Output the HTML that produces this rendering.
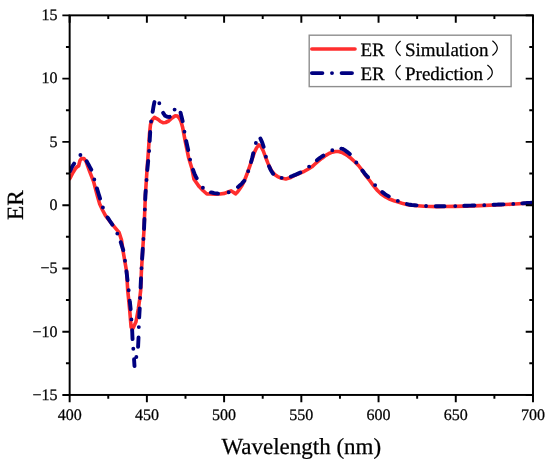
<!DOCTYPE html>
<html><head><meta charset="utf-8"><style>
html,body{margin:0;padding:0;background:#fff;}
body{width:550px;height:466px;overflow:hidden;}
svg{display:block;will-change:transform;filter:blur(0.35px);}
text{font-family:"Liberation Serif",serif;fill:#000;text-rendering:geometricPrecision;stroke:#000;stroke-width:0.25px;}
</style></head><body>
<svg width="550" height="466" viewBox="0 0 550 466">
<rect width="550" height="466" fill="#fff"/>

<defs><clipPath id="c"><rect x="69.65" y="14.35" width="463.35" height="381.59999999999997"/></clipPath></defs>
<g clip-path="url(#c)" fill="none" stroke-linejoin="round">
<polyline points="69.0,179.5 70.3,177.8 73.0,172.5 75.5,168.5 77.0,166.9 78.6,166.0 80.0,160.5 81.4,158.6 84.0,158.6 86.0,161.3 89.8,171.8 93.6,181.6 97.1,195.0 99.7,204.0 102.5,210.0 105.5,215.6 112.5,224.6 119.0,232.3 121.5,240.0 122.9,250.0 126.6,271.5 127.7,290.0 129.6,309.0 131.1,327.0 132.2,329.5 133.6,327.0 136.0,321.8 138.3,309.0 139.6,300.0 140.7,290.0 141.4,271.5 142.7,250.0 144.0,230.0 145.4,195.0 147.0,170.0 148.5,150.0 149.5,134.0 150.5,124.5 152.5,119.5 154.4,117.4 158.1,119.4 160.5,121.5 163.0,122.7 165.5,122.5 168.7,121.0 172.0,118.0 175.3,115.7 177.5,116.0 179.4,118.2 181.0,121.5 182.6,127.2 185.2,141.1 188.5,157.2 191.9,168.6 194.0,179.3 199.2,186.6 203.0,190.5 206.9,194.0 210.8,193.9 215.0,194.2 220.0,194.0 224.6,193.4 228.0,192.0 231.0,190.9 233.0,192.0 235.5,193.9 237.5,192.0 239.3,189.4 242.0,185.5 244.5,180.4 247.0,174.0 249.8,166.1 252.0,159.5 254.3,152.6 256.5,148.0 258.8,145.0 261.0,146.5 263.3,151.0 265.5,157.0 267.9,163.1 270.0,168.0 272.4,172.1 275.0,174.8 277.6,176.6 281.0,178.0 285.8,178.9 290.0,177.8 294.1,175.7 299.0,173.5 304.3,171.3 308.0,169.2 311.9,166.8 315.0,164.0 318.3,161.1 322.0,158.2 325.9,155.4 329.0,153.5 332.3,152.2 335.5,151.5 338.6,151.5 342.0,152.5 345.0,154.1 348.0,156.0 351.0,158.3 354.5,161.5 358.5,165.5 362.0,170.0 366.0,176.0 370.0,181.0 373.6,185.8 377.5,190.5 381.1,194.1 385.5,197.0 390.1,199.3 394.0,200.8 398.2,202.0 403.0,203.6 407.7,204.8 412.0,205.3 417.3,205.7 424.0,206.2 430.9,206.5 437.0,206.6 444.5,206.5 455.0,206.4 465.0,206.1 480.0,205.6 500.0,204.8 515.0,204.0 533.0,202.9" stroke="#ff2e2e" stroke-width="3.6" stroke-linecap="round"/>
<path d="M70.00,171.20 L70.11,170.97 L70.76,169.62 L71.41,168.26 L72.07,166.90 L72.79,165.58 L73.68,164.31 L74.12,163.67 M80.40,155.00h0.01 M86.72,161.32 L86.84,161.54 L87.56,162.86 L88.28,164.18 L89.00,165.50 L89.72,166.82 L90.44,168.14 L91.16,169.46 L91.28,169.68 M94.30,179.40h0.01 M96.94,188.44 L97.02,188.69 L97.46,190.13 L97.91,191.57 L98.35,193.02 L98.80,194.46 L99.24,195.91 L99.69,197.35 L100.06,198.56 M102.90,207.50h0.01 M107.55,217.47 L107.69,217.68 L108.54,218.94 L109.38,220.21 L110.23,221.47 L111.08,222.74 L111.93,224.00 L112.35,224.63 M117.30,233.60h0.01 M120.75,242.15 L120.83,242.40 L121.28,243.85 L121.74,245.30 L122.19,246.76 L122.64,248.21 L123.10,249.66 L123.25,250.15 M125.00,260.80h0.01 M126.47,271.25 L126.50,271.50 L126.67,273.00 L126.85,274.50 L127.02,276.00 L127.19,277.50 L127.37,279.00 L127.51,280.25 M128.67,290.25h0.01 M129.78,300.74 L129.80,300.99 L129.96,302.49 L130.11,303.98 L130.26,305.47 L130.42,306.97 L130.57,308.46 L130.65,309.21 M131.40,319.40h0.01 M132.16,330.10 L132.17,330.35 L132.24,331.85 L132.30,333.35 L132.36,334.85 L132.42,336.35 L132.49,337.85 L132.54,339.10 M133.30,348.70h0.01 M134.08,359.26 L134.09,359.52 L134.19,361.03 L134.28,362.55 L134.38,364.06 L134.47,365.58 L134.51,366.08 M136.34,356.99h0.01 M138.07,346.79 L138.09,346.54 L138.16,345.04 L138.23,343.53 L138.31,342.02 L138.38,340.52 L138.45,339.01 L138.53,337.51 M138.80,327.10h0.01 M139.19,317.40 L139.20,317.15 L139.29,315.65 L139.38,314.15 L139.46,312.65 L139.55,311.15 L139.64,309.65 L139.71,308.40 M140.11,297.95h0.01 M140.58,287.62 L140.59,287.37 L140.65,285.86 L140.72,284.35 L140.79,282.83 L140.86,281.32 L140.93,279.81 L140.99,278.30 M141.51,268.25h0.01 M142.13,258.75 L142.15,258.50 L142.24,257.00 L142.34,255.50 L142.44,254.00 L142.54,252.50 L142.63,251.00 L142.73,249.50 L142.78,248.75 M143.41,239.00h0.01 M144.04,229.00 L144.05,228.75 L144.11,227.25 L144.17,225.75 L144.23,224.25 L144.29,222.75 L144.35,221.25 L144.41,219.75 L144.44,219.00 M144.82,209.50h0.01 M145.22,199.50 L145.23,199.25 L145.29,197.75 L145.35,196.25 L145.42,194.75 L145.53,193.25 L145.65,191.75 L145.72,190.75 M146.54,180.00h0.01 M147.30,170.00 L147.32,169.75 L147.47,168.25 L147.61,166.75 L147.75,165.25 L147.89,163.75 L148.04,162.25 L148.16,161.00 M149.10,151.00h0.01 M149.69,141.00 L149.71,140.75 L149.79,139.25 L149.87,137.75 L149.96,136.25 L150.04,134.75 L150.12,133.25 L150.19,132.00 M151.08,121.56h0.01 M152.65,111.79 L152.69,111.54 L152.94,110.03 L153.19,108.52 L153.43,107.01 L153.70,105.51 L154.00,104.04 L154.30,102.56 L154.40,102.07 M159.30,103.30h0.01 M163.15,112.89 L163.29,113.11 L164.15,114.41 L165.00,115.70 L166.36,116.35 L167.75,116.91 L169.25,116.99 L169.72,116.85 M174.60,109.60h0.01 M180.56,112.67 L180.62,112.91 L180.97,114.38 L181.33,115.85 L181.69,117.32 L182.05,118.79 L182.40,120.25 L182.64,121.23 M184.44,131.65h0.01 M186.17,141.05 L186.22,141.30 L186.56,142.79 L186.89,144.28 L187.22,145.78 L187.56,147.27 L187.89,148.76 L188.17,150.01 M190.10,159.60h0.01 M193.04,169.81 L193.12,170.05 L193.66,171.46 L194.20,172.88 L194.73,174.29 L195.36,175.69 L196.08,177.07 L196.68,178.22 M202.90,187.70h0.01 M210.92,192.40 L211.18,192.45 L212.71,192.75 L214.24,193.05 L215.76,193.31 L217.27,193.53 L218.03,193.64 M228.70,192.20h0.01 M238.00,187.05 L238.20,186.88 L239.40,185.86 L240.60,184.84 L241.66,183.75 L242.65,182.62 L243.65,181.48 L244.31,180.73 M248.22,171.14h0.01 M251.06,162.10 L251.12,161.86 L251.52,160.41 L251.91,158.95 L252.30,157.50 L252.64,156.01 L252.98,154.53 L253.26,153.29 M255.89,142.97h0.01 M260.41,138.47 L260.52,138.71 L261.15,140.12 L261.79,141.53 L262.33,142.96 L262.82,144.41 L263.31,145.85 L263.64,146.82 M265.90,156.80h0.01 M269.04,166.25 L269.15,166.48 L269.80,167.90 L270.45,169.32 L271.14,170.72 L271.97,172.03 L272.80,173.35 L273.07,173.79 M281.66,177.84h0.01 M290.77,176.57 L291.01,176.48 L292.42,175.96 L293.83,175.43 L295.23,174.89 L296.62,174.25 L298.00,173.61 L299.39,172.97 L300.31,172.54 M309.10,166.60h0.01 M316.93,160.16 L317.13,160.00 L318.36,159.06 L319.59,158.11 L320.84,157.24 L322.09,156.39 L323.35,155.55 M332.30,150.20h0.01 M341.28,148.62 L341.52,148.68 L343.00,149.00 L344.29,149.86 L345.57,150.71 L346.80,151.64 L348.00,152.60 L349.20,153.56 L349.80,154.04 M356.30,162.50h0.01 M362.41,170.53 L362.57,170.73 L363.48,171.96 L364.39,173.18 L365.35,174.37 L366.39,175.50 L367.43,176.62 L367.96,177.18 M375.10,185.10h0.01 M382.30,192.03 L382.50,192.18 L383.70,193.11 L384.90,194.04 L386.16,194.87 L387.47,195.61 L388.79,196.36 M397.83,200.90h0.01 M406.96,204.09 L407.20,204.16 L408.71,204.46 L410.23,204.71 L411.75,204.96 L413.26,205.10 L414.78,205.21 L416.29,205.32 L416.54,205.34 M426.04,205.99h0.01 M435.73,206.28 L435.98,206.28 L437.50,206.29 L439.00,206.27 L440.50,206.25 L442.00,206.23 L443.50,206.21 L444.50,206.20 M455.25,206.09h0.01 M464.25,205.82 L464.50,205.81 L466.00,205.77 L467.50,205.72 L469.00,205.67 L470.50,205.62 L472.00,205.57 L473.50,205.52 L474.50,205.48 M484.25,205.13h0.01 M493.50,204.76 L493.75,204.75 L495.25,204.69 L496.75,204.63 L498.25,204.57 L499.75,204.51 L501.25,204.44 L502.75,204.37 L503.50,204.34 M513.25,203.88h0.01 M522.25,203.36 L522.50,203.34 L524.00,203.25 L525.50,203.16 L527.00,203.07 L528.50,202.97 L530.00,202.88 L531.50,202.79" stroke="#000080" stroke-width="3.9" stroke-linecap="round" stroke-linejoin="round" fill="none"/>
</g>
<rect x="69.65" y="15.35" width="463.35" height="379.59999999999997" fill="none" stroke="#000" stroke-width="1.95"/>
<path d="M69.65,394.95 v7.3 M69.65,15.35 v7.3 M108.26,394.95 v3.7 M108.26,15.35 v3.7 M146.88,394.95 v7.3 M146.88,15.35 v7.3 M185.49,394.95 v3.7 M185.49,15.35 v3.7 M224.10,394.95 v7.3 M224.10,15.35 v7.3 M262.71,394.95 v3.7 M262.71,15.35 v3.7 M301.33,394.95 v7.3 M301.33,15.35 v7.3 M339.94,394.95 v3.7 M339.94,15.35 v3.7 M378.55,394.95 v7.3 M378.55,15.35 v7.3 M417.16,394.95 v3.7 M417.16,15.35 v3.7 M455.77,394.95 v7.3 M455.77,15.35 v7.3 M494.39,394.95 v3.7 M494.39,15.35 v3.7 M533.00,394.95 v7.3 M533.00,15.35 v7.3 M69.65,394.95 h-7.3 M533.0,394.95 h-7.3 M69.65,363.32 h-3.7 M533.0,363.32 h-3.7 M69.65,331.68 h-7.3 M533.0,331.68 h-7.3 M69.65,300.05 h-3.7 M533.0,300.05 h-3.7 M69.65,268.42 h-7.3 M533.0,268.42 h-7.3 M69.65,236.78 h-3.7 M533.0,236.78 h-3.7 M69.65,205.15 h-7.3 M533.0,205.15 h-7.3 M69.65,173.52 h-3.7 M533.0,173.52 h-3.7 M69.65,141.88 h-7.3 M533.0,141.88 h-7.3 M69.65,110.25 h-3.7 M533.0,110.25 h-3.7 M69.65,78.62 h-7.3 M533.0,78.62 h-7.3 M69.65,46.98 h-3.7 M533.0,46.98 h-3.7 M69.65,15.35 h-7.3 M533.0,15.35 h-7.3" stroke="#000" stroke-width="1.95" fill="none"/>
<text x="69.7" y="419.5" font-size="16" text-anchor="middle">400</text>
<text x="146.9" y="419.5" font-size="16" text-anchor="middle">450</text>
<text x="224.1" y="419.5" font-size="16" text-anchor="middle">500</text>
<text x="301.3" y="419.5" font-size="16" text-anchor="middle">550</text>
<text x="378.5" y="419.5" font-size="16" text-anchor="middle">600</text>
<text x="455.8" y="419.5" font-size="16" text-anchor="middle">650</text>
<text x="533.0" y="419.5" font-size="16" text-anchor="middle">700</text>
<text x="57.6" y="20.2" font-size="16" text-anchor="end">15</text>
<text x="57.6" y="83.4" font-size="16" text-anchor="end">10</text>
<text x="57.6" y="146.7" font-size="16" text-anchor="end">5</text>
<text x="57.6" y="210.0" font-size="16" text-anchor="end">0</text>
<text x="57.6" y="273.2" font-size="16" text-anchor="end">−5</text>
<text x="57.6" y="336.5" font-size="16" text-anchor="end">−10</text>
<text x="57.6" y="399.8" font-size="16" text-anchor="end">−15</text>
<text x="301.3" y="454" font-size="23" text-anchor="middle">Wavelength (nm)</text>
<text transform="translate(23.3,205) rotate(-90)" x="0" y="0" font-size="23.3" text-anchor="middle">ER</text>
<rect x="309.2" y="35.2" width="201.9" height="51.4" fill="#fff" stroke="#8e8e8e" stroke-width="1.4"/>
<line x1="311.8" y1="49.0" x2="355" y2="49.0" stroke="#ff2e2e" stroke-width="3.6" stroke-linecap="round"/>
<line x1="311.9" y1="73.1" x2="352" y2="73.1" stroke="#000080" stroke-width="3.9" stroke-linecap="round" stroke-dasharray="10.5 9.6 0 9.6"/>
<text x="360.5" y="55.7" font-size="19">ER</text>
<text x="405" y="55.7" font-size="19">Simulation</text>
<text x="360.5" y="79.7" font-size="19">ER</text>
<text x="405" y="79.7" font-size="19">Prediction</text>
<path d="M400.60,41.00 Q391.40,48.35 400.60,55.70 M492.40,40.70 Q502.20,48.10 492.40,55.50 M400.60,65.30 Q391.40,72.55 400.60,79.80 M487.40,65.10 Q497.20,72.40 487.40,79.70" stroke="#000" stroke-width="1.2" fill="none"/>
</svg></body></html>
